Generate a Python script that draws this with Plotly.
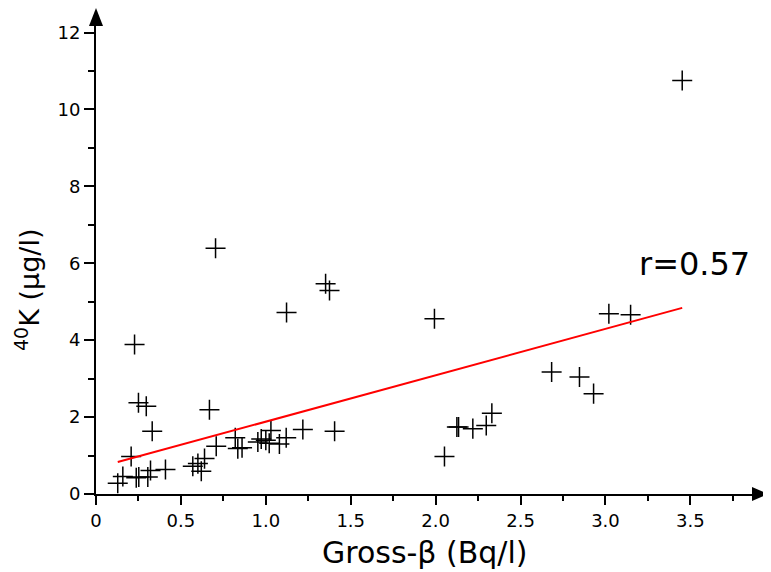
import plotly.graph_objects as go

# Data
gross_beta = [0.128, 0.158, 0.207, 0.227, 0.237, 0.252, 0.250, 0.296, 0.305, 0.321,
              0.331, 0.409, 0.570, 0.600, 0.620, 0.639, 0.668, 0.704, 0.708, 0.820,
              0.835, 0.860, 0.953, 0.973, 1.000, 1.020, 1.030, 1.080, 1.120, 1.122,
              1.218, 1.352, 1.375, 1.405, 1.993, 2.052, 2.125, 2.135, 2.219, 2.298,
              2.331, 2.683, 2.847, 2.930, 3.020, 3.148, 3.452]
k40 = [0.28, 0.455, 0.975, 3.89, 0.42, 0.44, 2.37, 2.28, 0.44, 0.61,
       1.63, 0.64, 0.72, 0.79, 0.59, 0.92, 2.19, 6.39, 1.24, 1.46,
       1.18, 1.20, 1.35, 1.43, 1.40, 1.32, 1.65, 1.30, 1.46, 4.72,
       1.68, 5.47, 5.29, 1.63, 4.56, 0.975, 1.74, 1.74, 1.70, 1.78,
       2.10, 3.17, 3.04, 2.61, 4.69, 4.66, 10.75]

fit_x = [0.128, 3.452]
fit_y = [0.83, 4.84]

x_tick_vals = [0, 0.5, 1.0, 1.5, 2.0, 2.5, 3.0, 3.5]
x_tick_text = ["0", "0.5", "1.0", "1.5", "2.0", "2.5", "3.0", "3.5"]
y_tick_vals = [0, 2, 4, 6, 8, 10, 12]
y_tick_text = ["0", "2", "4", "6", "8", "10", "12"]

X_MAX = 3.91
Y_MAX = 12.43
FONT = "DejaVu Sans"

fig = go.Figure()
fig.add_trace(go.Scatter(
    x=gross_beta, y=k40, mode="markers",
    marker=dict(symbol="cross-thin", size=14.3, color="black",
                line=dict(color="black", width=1.5)),
    showlegend=False, cliponaxis=False))
fig.add_trace(go.Scatter(
    x=fit_x, y=fit_y, mode="lines",
    line=dict(color="#ff0000", width=2), showlegend=False))

axis_common = dict(showline=True, linecolor="black", linewidth=2,
                   ticks="outside", tickcolor="black", tickwidth=2,
                   showgrid=False, zeroline=False,
                   tickfont=dict(family=FONT, size=18, color="black"))

fig.update_xaxes(range=[0, X_MAX], tickvals=x_tick_vals, ticktext=x_tick_text,
                 ticklen=9,
                 minor=dict(dtick=0.25, tick0=0, ticks="outside", ticklen=5,
                            tickwidth=2, tickcolor="black"),
                 **axis_common)
fig.update_yaxes(range=[0, Y_MAX], tickvals=y_tick_vals, ticktext=y_tick_text,
                 ticklen=10,
                 minor=dict(dtick=1, tick0=0, ticks="outside", ticklen=6,
                            tickwidth=2, tickcolor="black"),
                 **axis_common)

# arrow heads (paper-referenced so they are not clipped)
fig.add_shape(type="path", xref="paper", yref="paper", xsizemode="pixel", ysizemode="pixel",
              xanchor=1, yanchor=0,
              path="M-8,-7 L8,0 L-8,7 Z", fillcolor="black", line=dict(width=0))
fig.add_shape(type="path", xref="paper", yref="paper", xsizemode="pixel", ysizemode="pixel",
              xanchor=0, yanchor=1,
              path="M-7,-10 L0,8 L7,-10 Z", fillcolor="black", line=dict(width=0))

fig.add_annotation(text="Gross-β (Bq/l)", xref="paper", yref="paper",
                   x=0.4955, y=-0.1234, xanchor="center", yanchor="middle",
                   showarrow=False, font=dict(family=FONT, size=30, color="black"))
fig.add_annotation(text="<sup>40</sup>K (µg/l)", xref="paper", yref="paper",
                   x=-0.1024, y=0.427, xanchor="center", yanchor="middle",
                   textangle=-90,
                   showarrow=False, font=dict(family=FONT, size=27, color="black"))
fig.add_annotation(text="r=0.57", xref="paper", yref="paper",
                   x=0.902, y=0.481, xanchor="center", yanchor="middle",
                   showarrow=False, font=dict(family=FONT, size=32, color="black"))

fig.update_layout(width=771, height=572,
                  margin=dict(l=88, r=19, t=8, b=86),
                  plot_bgcolor="white", paper_bgcolor="white")

fig.write_html("out.html")
